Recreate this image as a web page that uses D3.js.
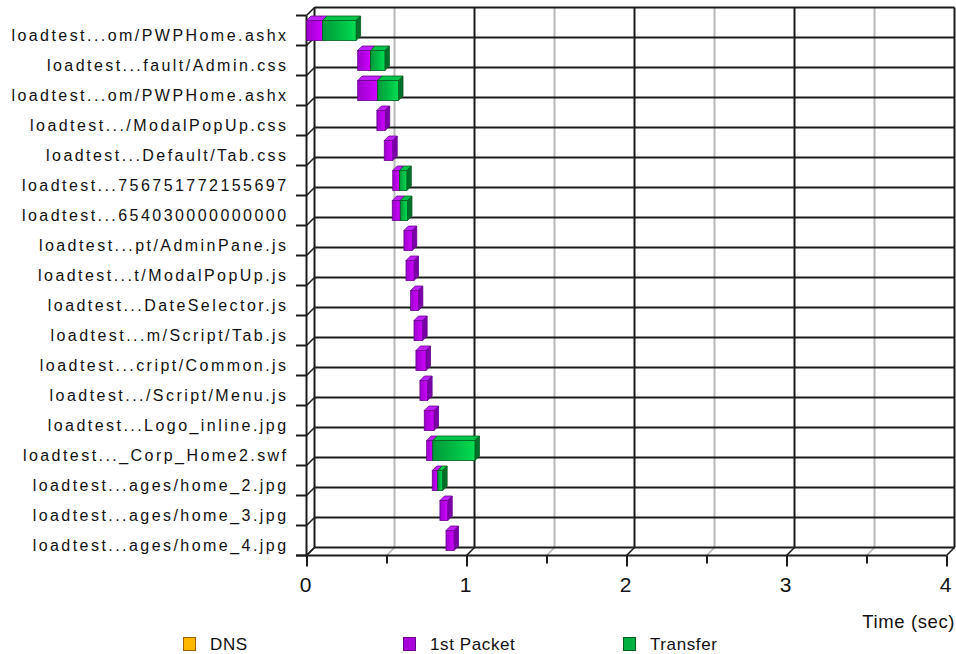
<!DOCTYPE html>
<html><head><meta charset="utf-8">
<script src="https://cdn.jsdelivr.net/npm/d3@7"></script>
<style>
html,body{margin:0;padding:0;background:#fff;}
svg{display:block;}
text{font-family:"Liberation Sans",Arial,sans-serif;fill:#111;}
</style></head>
<body>
<svg id="chart" width="956" height="654"></svg>
<script>
const labels = [
  "loadtest...om/PWPHome.ashx",
  "loadtest...fault/Admin.css",
  "loadtest...om/PWPHome.ashx ",
  "loadtest.../ModalPopUp.css",
  "loadtest...Default/Tab.css",
  "loadtest...756751772155697",
  "loadtest...654030000000000",
  "loadtest...pt/AdminPane.js",
  "loadtest...t/ModalPopUp.js",
  "loadtest...DateSelector.js",
  "loadtest...m/Script/Tab.js",
  "loadtest...cript/Common.js",
  "loadtest.../Script/Menu.js",
  "loadtest...Logo_inline.jpg",
  "loadtest..._Corp_Home2.swf",
  "loadtest...ages/home_2.jpg",
  "loadtest...ages/home_3.jpg",
  "loadtest...ages/home_4.jpg"
];
const startTimes  = [0.00, 0.32, 0.32, 0.44, 0.486, 0.539, 0.536, 0.609, 0.622, 0.651, 0.672, 0.684, 0.709, 0.736, 0.751, 0.786, 0.834, 0.872];
const dnsTimes    = [0, 0, 0, 0, 0, 0, 0, 0, 0, 0, 0, 0, 0, 0, 0, 0, 0, 0];
const firstPacket = [0.10, 0.08, 0.125, 0.052, 0.053, 0.042, 0.05, 0.052, 0.05, 0.048, 0.054, 0.063, 0.048, 0.061, 0.038, 0.034, 0.049, 0.05];
const transfer    = [0.21, 0.09, 0.13, 0, 0, 0.046, 0.045, 0, 0, 0, 0, 0, 0, 0, 0.264, 0.031, 0, 0];
const seriesNames = ["DNS", "1st Packet", "Transfer"];
const majorTicks  = [0, 1, 2, 3, 4];
const minorTicks  = [0.5, 1.5, 2.5, 3.5];
const xTitle = "Time (sec)";

const colors = {
  "DNS":        {front0:"#e89a00", front1:"#ffc000", top:"#ffc830", side:"#b07000", edge:"#a06000", legend:"#ffb800"},
  "1st Packet": {front0:"#9c00cc", front1:"#d000ff", top:"#c020ff", side:"#7a00a8", edge:"#6a0090", legend:"#a800d8"},
  "Transfer":   {front0:"#009a38", front1:"#00dc50", top:"#00c448", side:"#007028", edge:"#005e20", legend:"#00b040"}
};

const svg = d3.select("#chart");
const D = 8;      // wall depth offset
const d = 4.5;    // bar depth offset

const x = d3.scaleLinear().domain([0, 4]).range([306.5, 946.5]);
const y = d3.scaleBand().domain(labels).range([15.5, 555.5]).padding(0);
const bw = y.bandwidth();
const y0 = y.range()[0], y1 = y.range()[1];

// gradients
const defs = svg.append("defs");
seriesNames.forEach((s, i) => {
  const g = defs.append("linearGradient").attr("id", "g" + i).attr("x1", 0).attr("x2", 1).attr("y1", 0).attr("y2", 0);
  g.append("stop").attr("offset", "0%").attr("stop-color", colors[s].front0);
  g.append("stop").attr("offset", "100%").attr("stop-color", colors[s].front1);
});

const dark = "#1c1c1c", light = "#b8b8b8";
const grid = svg.append("g");

// back wall vertical grid lines
const allT = majorTicks.concat(minorTicks);
grid.selectAll("line.v").data(allT).join("line")
  .attr("x1", t => x(t) + D).attr("x2", t => x(t) + D)
  .attr("y1", y0 - D).attr("y2", y1 - D)
  .attr("stroke", t => Number.isInteger(t) ? dark : light)
  .attr("stroke-width", 2);

// floor diagonals
grid.selectAll("line.fd").data(allT).join("line")
  .attr("x1", t => x(t)).attr("x2", t => x(t) + D)
  .attr("y1", y1).attr("y2", y1 - D)
  .attr("stroke", t => Number.isInteger(t) ? dark : light)
  .attr("stroke-width", 1.6);

// row boundaries
const bounds = labels.map(l => y(l)).concat([y1]);
grid.selectAll("line.h").data(bounds).join("line")
  .attr("x1", x(0) + D).attr("x2", x(4) + D)
  .attr("y1", b => b - D).attr("y2", b => b - D)
  .attr("stroke", dark).attr("stroke-width", 2);
grid.selectAll("line.ld").data(bounds).join("line")
  .attr("x1", x(0)).attr("x2", x(0) + D)
  .attr("y1", b => b).attr("y2", b => b - D)
  .attr("stroke", dark).attr("stroke-width", 1.6);
grid.selectAll("line.lt").data(bounds).join("line")
  .attr("x1", x(0) - 10.5).attr("x2", x(0))
  .attr("y1", b => b).attr("y2", b => b)
  .attr("stroke", dark).attr("stroke-width", 2);

// front axes
grid.append("line").attr("x1", x(0)).attr("x2", x(0)).attr("y1", y0).attr("y2", y1)
  .attr("stroke", dark).attr("stroke-width", 2);
grid.append("line").attr("x1", x(0) - 10.5).attr("x2", x(4)).attr("y1", y1).attr("y2", y1)
  .attr("stroke", dark).attr("stroke-width", 2);

// x axis (major with labels, minor without)
const xAxis = svg.append("g").attr("transform", `translate(0,${y1})`)
  .call(d3.axisBottom(x).tickValues(majorTicks).tickSize(11).tickPadding(11).tickFormat(d3.format("d")));
xAxis.select(".domain").remove();
xAxis.selectAll(".tick line").attr("stroke", dark).attr("stroke-width", 2);
xAxis.selectAll(".tick text").attr("font-size", 21).attr("font-family", "Liberation Sans, Arial, sans-serif").attr("fill", "#111").attr("dx", -1.5);
const xMinor = svg.append("g").attr("transform", `translate(0,${y1})`)
  .call(d3.axisBottom(x).tickValues(minorTicks).tickSize(8).tickFormat(""));
xMinor.select(".domain").remove();
xMinor.selectAll(".tick line").attr("stroke", dark).attr("stroke-width", 2);

// y axis labels
const yAxis = svg.append("g").attr("transform", `translate(${x(0)},0)`)
  .call(d3.axisLeft(y).tickSize(0).tickPadding(18));
yAxis.select(".domain").remove();
yAxis.selectAll(".tick text")
  .attr("font-size", 16).attr("font-family", "Liberation Sans, Arial, sans-serif")
  .attr("fill", "#111").attr("letter-spacing", "2.45px")
  .attr("dy", null).attr("y", 10.5);

// bars
const rows = labels.map((l, i) => {
  const segs = [];
  let t = startTimes[i];
  [dnsTimes[i], firstPacket[i], transfer[i]].forEach((v, k) => {
    if (v > 0) segs.push({row: l, s: seriesNames[k], k: k, a: t, b: t + v});
    t += v;
  });
  return segs;
}).flat();

const bars = svg.append("g");
const bh = 20;
rows.forEach(seg => {
  const xa = x(seg.a), xb = x(seg.b);
  const yt = y(seg.row) + (bw - bh) / 2, yb = yt + bh;
  const c = colors[seg.s];
  const g = bars.append("g");
  g.append("path").attr("d", `M${xa},${yt}L${xa + d},${yt - d}L${xb + d},${yt - d}L${xb},${yt}Z`)
    .attr("fill", c.top).attr("stroke", c.edge).attr("stroke-width", 0.8);
  g.append("path").attr("d", `M${xb},${yt}L${xb + d},${yt - d}L${xb + d},${yb - d}L${xb},${yb}Z`)
    .attr("fill", c.side).attr("stroke", c.edge).attr("stroke-width", 0.8);
  g.append("rect").attr("x", xa).attr("y", yt).attr("width", xb - xa).attr("height", bh)
    .attr("fill", `url(#g${seg.k})`).attr("stroke", c.edge).attr("stroke-width", 0.8);
});

// x title
svg.append("text").attr("x", 955).attr("y", 628).attr("text-anchor", "end")
  .attr("font-size", 18.5).attr("letter-spacing", "0.6px").text(xTitle);

// legend
const legX = d3.scaleOrdinal().domain(seriesNames).range([183, 403, 623]);
const leg = svg.append("g").selectAll("g").data(seriesNames).join("g")
  .attr("transform", s => `translate(${legX(s)},637)`);
leg.append("rect").attr("x", 0.5).attr("y", 0.5).attr("width", 12).attr("height", 13)
  .attr("fill", s => colors[s].legend)
  .attr("stroke", s => colors[s].edge).attr("stroke-width", 1);
leg.append("text").attr("x", 27).attr("y", 12.5).attr("font-size", 17).attr("letter-spacing", "0.6px")
  .text(s => s);
</script>
</body></html>
